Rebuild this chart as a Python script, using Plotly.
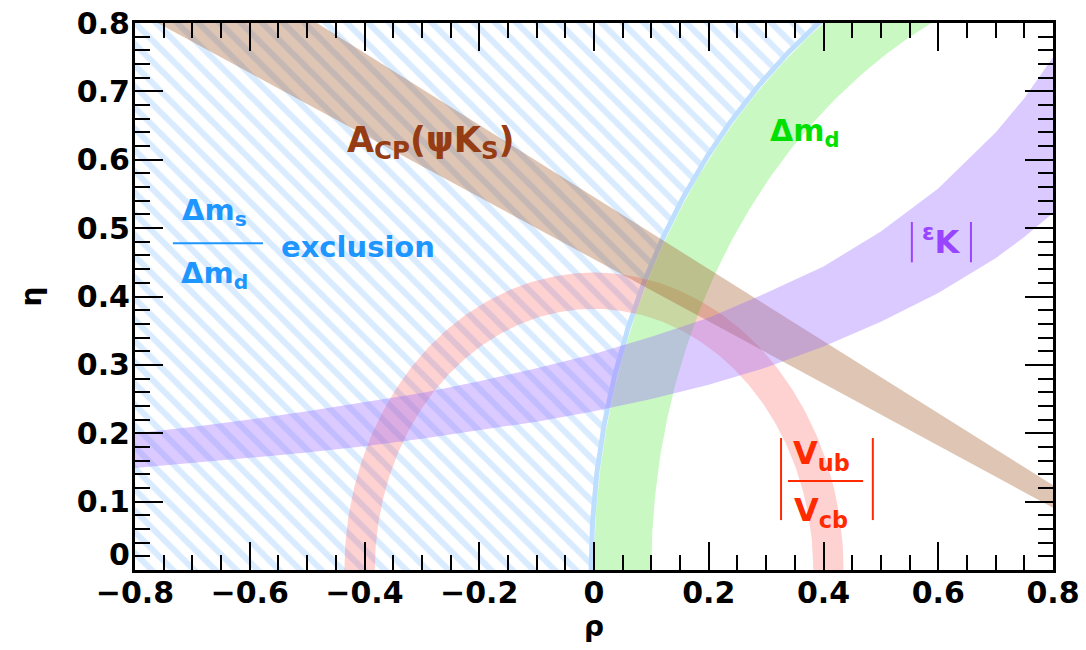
import numpy as np
import plotly.graph_objects as go

# ---------------- data ----------------
x_range = [-0.8, 0.8]
y_range = [0.0, 0.8]
x_tick_vals = [-0.8, -0.6, -0.4, -0.2, 0.0, 0.2, 0.4, 0.6, 0.8]
y_tick_vals = [0.0, 0.1, 0.2, 0.3, 0.4, 0.5, 0.6, 0.7, 0.8]
y_tick_text = ["", "0.1", "0.2", "0.3", "0.4", "0.5", "0.6", "0.7", "0.8"]

# |Vub/Vcb| annulus (centre, inner/outer radius)
vub_center = [0.0, 0.0]
vub_radii = [0.382, 0.435]

# Delta m_d annulus
dmd_center = [1.0, 0.0]
dmd_radii = [0.90, 1.00]

# Delta m_s / Delta m_d exclusion limit (circle)
dms_center = [1.0, 0.0]
dms_radius = 1.005

# |eps_K| band edges
eps_rho = [-0.8, -0.7, -0.6, -0.5, -0.4, -0.3, -0.2, -0.1, 0.0,
           0.1, 0.2, 0.3, 0.4, 0.5, 0.6, 0.7, 0.75, 0.8]
eps_low = [0.149, 0.156, 0.164, 0.172, 0.181, 0.192, 0.204, 0.217, 0.232,
           0.250, 0.271, 0.296, 0.327, 0.363, 0.405, 0.456, 0.487, 0.522]
eps_high = [0.200, 0.209, 0.220, 0.232, 0.245, 0.259, 0.276, 0.295, 0.316,
            0.341, 0.369, 0.405, 0.444, 0.495, 0.558, 0.640, 0.690, 0.750]

# A_CP(psi K_S) band edges (straight lines)
acp_rho = [-0.8, 0.8]
acp_low = [0.818, 0.091]
acp_high = [0.967, 0.124]

# ---------------- helpers ----------------
def arc(center, r, a0, a1, n=200):
    t = np.linspace(a0, a1, n)
    return center[0] + r * np.cos(t), center[1] + r * np.sin(t)


def annulus(center, radii, a0, a1):
    xo, yo = arc(center, radii[1], a0, a1)
    xi, yi = arc(center, radii[0], a1, a0)
    return np.concatenate([xo, xi, [xo[0]]]), np.concatenate([yo, yi, [yo[0]]])


FONT = "DejaVu Sans"
fig = go.Figure()

# hatched exclusion region
bx, by = arc(dms_center, dms_radius, np.pi, np.pi - np.arcsin(0.9 / dms_radius))
hx = np.concatenate([[x_range[0]], bx, [x_range[0], x_range[0]]])
hy = np.concatenate([[0.0], by, [by[-1], 0.0]])
fig.add_trace(go.Scatter(
    x=hx, y=hy, mode="lines", fill="toself", line=dict(width=0),
    fillcolor="rgba(0,0,0,0)",
    fillpattern=dict(shape="\\", fgcolor="rgb(180,215,255)", bgcolor="white",
                     size=15, solidity=0.4),
    hoverinfo="skip", showlegend=False))
fig.add_trace(go.Scatter(
    x=bx, y=by, mode="lines", line=dict(color="rgb(190,222,255)", width=5),
    hoverinfo="skip", showlegend=False))

# |Vub/Vcb|
vx, vy = annulus(vub_center, vub_radii, 0.0, np.pi)
fig.add_trace(go.Scatter(x=vx, y=vy, mode="lines", fill="toself",
                         fillcolor="rgba(255,60,60,0.23)", line=dict(width=0),
                         hoverinfo="skip", showlegend=False))

# Delta m_d
gx, gy = annulus(dmd_center, dmd_radii, np.pi / 2, np.pi)
fig.add_trace(go.Scatter(x=gx, y=gy, mode="lines", fill="toself",
                         fillcolor="rgba(60,230,40,0.28)", line=dict(width=0),
                         hoverinfo="skip", showlegend=False))

# A_CP
ax_ = acp_rho + acp_rho[::-1] + [acp_rho[0]]
ay_ = acp_low + acp_high[::-1] + [acp_low[0]]
fig.add_trace(go.Scatter(x=ax_, y=ay_, mode="lines", fill="toself",
                         fillcolor="rgba(160,90,40,0.35)", line=dict(width=0),
                         hoverinfo="skip", showlegend=False))

# eps_K
ex = eps_rho + eps_rho[::-1] + [eps_rho[0]]
ey = eps_low + eps_high[::-1] + [eps_low[0]]
fig.add_trace(go.Scatter(x=ex, y=ey, mode="lines", fill="toself",
                         fillcolor="rgba(153,102,255,0.35)",
                         line=dict(width=0),
                         hoverinfo="skip", showlegend=False))

# ---------------- labels ----------------
C_BROWN = "#963c14"
C_GREEN = "#00e000"
C_BLUE = "#1e96ff"
C_PURPLE = "#9944ff"
C_RED = "#ff2a00"

def label(text, x, y, color, size=29):
    fig.add_annotation(x=x, y=y, xref="x", yref="y", text=text, showarrow=False,
                       font=dict(family=FONT, size=size, color=color, weight="bold"))

def seg(x0, y0, x1, y1, color, w=2):
    fig.add_shape(type="line", xref="x", yref="y", x0=x0, y0=y0, x1=x1, y1=y1,
                  line=dict(color=color, width=w))

label("A<sub>CP</sub>(ψK<sub>S</sub>)", -0.284, 0.625, C_BROWN, 35)
label("Δm<sub>d</sub>", 0.368, 0.640, C_GREEN, 30)

label("Δm<sub>s</sub>", -0.661, 0.524, C_BLUE, 29)
label("Δm<sub>d</sub>", -0.661, 0.432, C_BLUE, 29)
seg(-0.734, 0.478, -0.577, 0.478, C_BLUE)
label("exclusion", -0.411, 0.472, C_BLUE, 29)

label("<sup>ε</sup>K", 0.605, 0.482, C_PURPLE, 32)
seg(0.554, 0.450, 0.554, 0.509, C_PURPLE)
seg(0.657, 0.450, 0.657, 0.509, C_PURPLE)

label("V<sub>ub</sub>", 0.396, 0.168, C_RED, 32)
label("V<sub>cb</sub>", 0.396, 0.085, C_RED, 32)
seg(0.338, 0.130, 0.469, 0.130, C_RED)
seg(0.326, 0.073, 0.326, 0.193, C_RED)
seg(0.486, 0.073, 0.486, 0.193, C_RED)

# raised "0" label of the eta axis (as in the reference)
fig.add_annotation(x=0, y=0, xref="paper", yref="y", text="0", showarrow=False,
                   xanchor="right", xshift=-3, yshift=16,
                   font=dict(family=FONT, size=30, color="black", weight="bold"))

# ---------------- axes ----------------
axis_common = dict(
    showgrid=False, zeroline=False, showline=True, linecolor="black", linewidth=3,
    mirror="allticks", ticks="inside", ticklen=28, tickwidth=2, tickcolor="black",
    ticklabeloverflow="allow",
    tickfont=dict(family=FONT, size=30, color="black", weight="bold"),
)
fig.update_xaxes(range=x_range, tickvals=x_tick_vals, **axis_common,
                 ticklabelstandoff=-6,
                 minor=dict(dtick=0.05, tick0=-0.8, ticks="inside", ticklen=15,
                            tickwidth=2, tickcolor="black"),
                 title=dict(text="ρ", standoff=4,
                            font=dict(family=FONT, size=28, color="black", weight="bold")))
fig.update_yaxes(range=y_range, tickvals=y_tick_vals, ticktext=y_tick_text,
                 **axis_common, ticklabelstandoff=-4,
                 minor=dict(dtick=0.02, tick0=0, ticks="inside", ticklen=15,
                            tickwidth=2, tickcolor="black"),
                 title=dict(text="η", standoff=28,
                            font=dict(family=FONT, size=28, color="black", weight="bold")))

fig.update_layout(
    width=1086, height=650,
    margin=dict(l=135, r=33, t=23, b=80, autoexpand=False),
    plot_bgcolor="white", paper_bgcolor="white",
    showlegend=False,
)

fig.write_html(
    "out.html",
    config={"displayModeBar": False},
    post_script="document.body.style.margin='0';document.body.style.overflow='hidden';",
)
